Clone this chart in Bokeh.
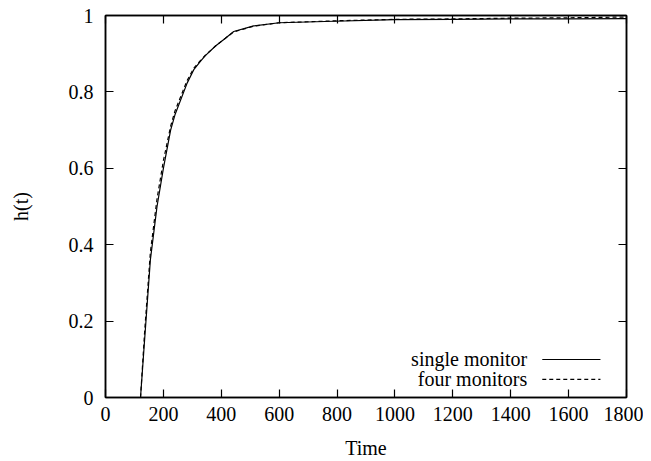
from bokeh.plotting import figure
from bokeh.models import Range1d, LinearAxis, FixedTicker, CustomJSTickFormatter, Label
from bokeh.embed import file_html
from bokeh.resources import INLINE

# Data
t_single = [121, 135, 155, 178, 200, 225, 240, 282, 305, 330, 345, 380, 410, 443, 512, 600, 790, 1000, 1200, 1400, 1600, 1800]
h_single = [0.0, 0.15, 0.36, 0.50, 0.60, 0.70, 0.74, 0.823, 0.858, 0.882, 0.895, 0.92, 0.938, 0.958, 0.973, 0.981, 0.985, 0.989, 0.990, 0.991, 0.991, 0.992]
t_four = [121, 135, 155, 178, 200, 225, 240, 282, 305, 330, 345, 380, 410, 443, 512, 600, 790, 1000, 1200, 1400, 1600, 1800]
h_four = [0.0, 0.17, 0.38, 0.52, 0.62, 0.71, 0.75, 0.83, 0.862, 0.884, 0.896, 0.92, 0.938, 0.957, 0.972, 0.981, 0.986, 0.990, 0.991, 0.993, 0.994, 0.996]

x_ticks = [0, 200, 400, 600, 800, 1000, 1200, 1400, 1600, 1800]
y_ticks = [0, 0.2, 0.4, 0.6, 0.8, 1.0]
legend_labels = ["single monitor", "four monitors"]

FONT = "Liberation Serif"
FS = "20px"

p = figure(width=643, height=461, output_backend="svg", toolbar_location=None,
           x_range=Range1d(0, 1800), y_range=Range1d(0, 1),
           min_border_left=105, min_border_right=17, min_border_top=15, min_border_bottom=61)
p.grid.visible = False
p.outline_line_color = "black"
p.outline_line_width = 1.5
p.background_fill_color = "white"
p.border_fill_color = "white"

fmt = CustomJSTickFormatter(code="return tick.toFixed(1).replace(/\\.0$/, '');")
blank = CustomJSTickFormatter(code="return '';")

for ax in [p.xaxis[0], p.yaxis[0]]:
    ax.major_tick_in = 8
    ax.major_tick_out = 0
    ax.minor_tick_in = 0
    ax.minor_tick_out = 0
    ax.axis_line_color = "black"
    ax.axis_line_width = 1.5
    ax.major_tick_line_width = 1.2
    ax.major_label_text_font = FONT
    ax.major_label_text_font_size = FS
    ax.major_label_text_color = "black"
    ax.axis_label_text_font = FONT
    ax.axis_label_text_font_size = FS
    ax.axis_label_text_font_style = "normal"
    ax.axis_label_text_color = "black"

p.xaxis[0].ticker = FixedTicker(ticks=x_ticks)
p.yaxis[0].ticker = FixedTicker(ticks=y_ticks)
p.yaxis[0].formatter = fmt
p.xaxis[0].axis_label = "Time"
p.yaxis[0].axis_label = "h(t)"
p.xaxis[0].major_label_standoff = 9
p.xaxis[0].axis_label_standoff = 13
p.yaxis[0].major_label_standoff = 12
p.yaxis[0].axis_label_standoff = 34

for loc, ticks in [("above", x_ticks), ("right", y_ticks)]:
    a = LinearAxis(ticker=FixedTicker(ticks=ticks), formatter=blank,
                   major_tick_in=8, major_tick_out=0, minor_tick_in=0, minor_tick_out=0,
                   major_label_standoff=0, axis_line_width=1.5, major_tick_line_width=1.2)
    p.add_layout(a, loc)

p.line(t_single, h_single, line_color="black", line_width=1.2)
p.line(t_four, h_four, line_color="black", line_width=1.2, line_dash="4 3")

# gnuplot-style key: label then line sample
key_y = [0.0995, 0.0475]
for lab, yy, dash in zip(legend_labels, key_y, ["solid", "4 3"]):
    p.add_layout(Label(x=1457, y=yy, text=lab, text_align="right", text_baseline="middle",
                       text_font=FONT, text_font_size=FS, text_color="black"))
    p.line([1509, 1710], [yy, yy], line_color="black", line_width=1.2, line_dash=dash)

open("out.html", "w").write(file_html(p, INLINE))
